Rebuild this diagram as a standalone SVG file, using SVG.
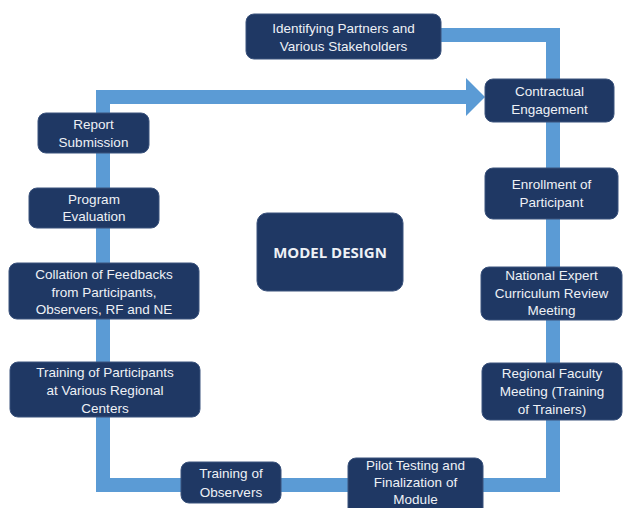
<svg xmlns="http://www.w3.org/2000/svg" width="626" height="508" viewBox="0 0 626 508">
<style>
.bar{fill:none;stroke:#5b9bd5;stroke-width:14;stroke-linejoin:miter;stroke-linecap:butt}
.box{fill:#1f3864;stroke:#3a527c;stroke-width:1}
.t{font-family:"Liberation Sans",Arial,sans-serif;font-size:13.5px;fill:#eef1f6;text-anchor:middle}
.b{font-family:"Open Sans","Liberation Sans",Arial,sans-serif;font-size:15px;font-weight:bold;fill:#eef1f6;text-anchor:middle}
</style>
<rect width="626" height="508" fill="#ffffff"/>
<g id="connectors">
<path class="bar" d="M441,35 H553 V79"/>
<path class="bar" d="M553,122 V485 H103 V97 H467"/>
<polygon points="466,78 485,97 466,116" fill="#5b9bd5"/>
</g>
<g id="n1"><rect class="box" x="246" y="14" width="195" height="45" rx="8"/><text class="t" x="343.5" y="33">Identifying Partners and</text><text class="t" x="343.5" y="51">Various Stakeholders</text></g>
<g id="n2"><rect class="box" x="485" y="79" width="129" height="43" rx="8"/><text class="t" x="549.5" y="96">Contractual</text><text class="t" x="549.5" y="114">Engagement</text></g>
<g id="n3"><rect class="box" x="485" y="168" width="133" height="51" rx="8"/><text class="t" x="551.5" y="189">Enrollment of</text><text class="t" x="551.5" y="207">Participant</text></g>
<g id="n4"><rect class="box" x="481" y="267" width="141" height="53" rx="8"/><text class="t" x="551.5" y="280">National Expert</text><text class="t" x="551.5" y="298">Curriculum Review</text><text class="t" x="551.5" y="315">Meeting</text></g>
<g id="n5"><rect class="box" x="482" y="363" width="140" height="57" rx="8"/><text class="t" x="552" y="378">Regional Faculty</text><text class="t" x="552" y="396">Meeting (Training</text><text class="t" x="552" y="414">of Trainers)</text></g>
<g id="n6"><rect class="box" x="348" y="458" width="135" height="62" rx="8"/><text class="t" x="415.5" y="470">Pilot Testing and</text><text class="t" x="415.5" y="487">Finalization of</text><text class="t" x="415.5" y="504">Module</text></g>
<g id="n7"><rect class="box" x="181" y="462" width="100" height="41" rx="8"/><text class="t" x="231" y="478">Training of</text><text class="t" x="231" y="497">Observers</text></g>
<g id="n8"><rect class="box" x="10" y="362" width="190" height="55" rx="8"/><text class="t" x="105" y="377">Training of Participants</text><text class="t" x="105" y="395">at Various Regional</text><text class="t" x="105" y="413">Centers</text></g>
<g id="n9"><rect class="box" x="9" y="263" width="190" height="56" rx="8"/><text class="t" x="104" y="279">Collation of Feedbacks</text><text class="t" x="104" y="297">from Participants,</text><text class="t" x="104" y="314">Observers, RF and NE</text></g>
<g id="n10"><rect class="box" x="29" y="188" width="130" height="40" rx="8"/><text class="t" x="94" y="204">Program</text><text class="t" x="94" y="221">Evaluation</text></g>
<g id="n11"><rect class="box" x="38" y="113" width="111" height="40" rx="8"/><text class="t" x="93.5" y="129">Report</text><text class="t" x="93.5" y="147">Submission</text></g>
<g id="n12"><rect class="box" x="257" y="213" width="146" height="78" rx="10"/><text class="b" x="330" y="258">MODEL DESIGN</text></g>
</svg>
